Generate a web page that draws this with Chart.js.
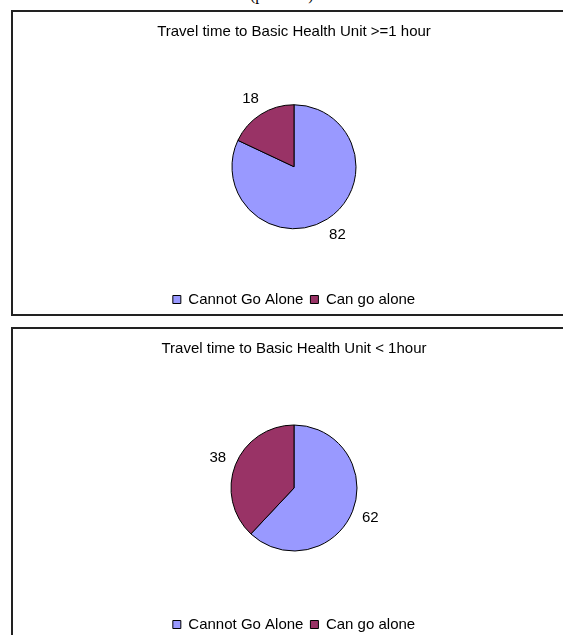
<!DOCTYPE html>
<html>
<head>
<meta charset="utf-8">
<script src="https://cdn.jsdelivr.net/npm/chart.js@4.4.0/dist/chart.umd.min.js"></script>
<style>
  body { margin: 0; background: #fff; overflow: hidden; width: 563px; height: 635px; position: relative; }
  .caption { position: absolute; left: 250px; top: -14px; font: 16px "Liberation Serif", "Times New Roman", serif; color: #000; }
  .panel { position: absolute; left: 11px; width: 600px; border: 2px solid #222; background: #fff; }
  #panelTop { top: 10px; height: 302px; }
  #panelBottom { top: 327px; height: 311px; }
  canvas { display: block; }
</style>
</head>
<body>
<div class="caption">(p&lt;0.001)</div>
<div class="panel" id="panelTop"><canvas id="chartTop" width="562" height="305"></canvas></div>
<div class="panel" id="panelBottom"><canvas id="chartBottom" width="562" height="313"></canvas></div>

<script>
// Share of respondents by travel time to the Basic Health Unit
const categories = ["Cannot Go Alone", "Can go alone"];
const overOneHour = [82, 18];
const underOneHour = [62, 38];
const titles = ["Travel time to Basic Health Unit >=1 hour", "Travel time to Basic Health Unit < 1hour"];

const sliceColors = ["#9999FF", "#993366"];
const fontFamily = "'Liberation Sans', Arial, sans-serif";

// Writes each slice's value just outside the rim, at the middle of its arc
const outsideLabels = {
    id: "outsideLabels",
    afterDatasetsDraw(chart) {
        const ctx = chart.ctx;
        const meta = chart.getDatasetMeta(0);
        const values = chart.data.datasets[0].data;
        ctx.save();
        ctx.font = "15px " + fontFamily;
        ctx.fillStyle = "#000";
        ctx.textAlign = "center";
        ctx.textBaseline = "middle";
        meta.data.forEach((arc, i) => {
            const { x, y, startAngle, endAngle, outerRadius } = arc.getProps(["x", "y", "startAngle", "endAngle", "outerRadius"], true);
            const mid = (startAngle + endAngle) / 2;
            const dist = outerRadius + 19;
            ctx.fillText(String(values[i]), x + Math.cos(mid) * dist, y + Math.sin(mid) * dist);
        });
        ctx.restore();
    },
};

function makePie(canvasId, title, values, radius, titlePad) {
    const ctx = document.getElementById(canvasId).getContext("2d");
    return new Chart(ctx, {
        type: "pie",
        data: {
            labels: categories,
            datasets: [
                {
                    data: values,
                    backgroundColor: sliceColors,
                    borderColor: "#000",
                    borderWidth: 1,
                    radius: radius,
                },
            ],
        },
        options: {
            responsive: false,
            animation: false,
            devicePixelRatio: 1,
            layout: { padding: 0 },
            plugins: {
                title: {
                    display: true,
                    text: title,
                    color: "#000",
                    font: { family: fontFamily, size: 15, weight: "normal", lineHeight: 1.2 },
                    padding: titlePad,
                },
                legend: {
                    display: true,
                    position: "bottom",
                    labels: {
                        color: "#000",
                        font: { family: fontFamily, size: 15 },
                        boxWidth: 8,
                        boxHeight: 8,
                        padding: 7,
                    },
                },
                tooltip: { enabled: false },
            },
        },
        plugins: [outsideLabels],
    });
}

makePie("chartTop", titles[0], overOneHour, 62, { top: 11, bottom: 7.5 });
makePie("chartBottom", titles[1], underOneHour, 63, { top: 11, bottom: 8 });
</script>
</body>
</html>
